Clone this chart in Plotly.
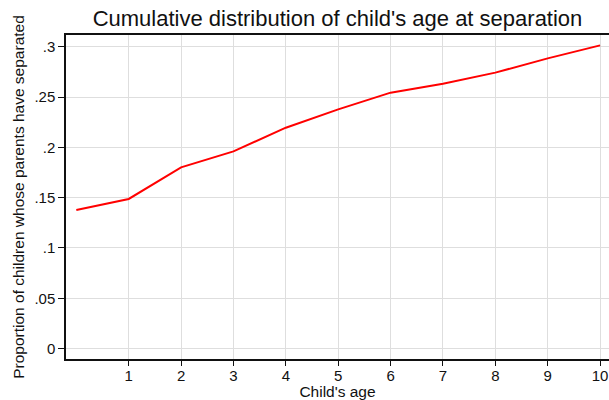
import plotly.graph_objects as go

# Child's age (years) and cumulative share of children whose parents have separated
ages = [0, 1, 2, 3, 4, 5, 6, 7, 8, 9, 10]
cum_share = [0.1377, 0.1487, 0.1801, 0.1960, 0.2195, 0.2377, 0.2543, 0.2632, 0.2742, 0.2884, 0.3013]

x_ticks = [1, 2, 3, 4, 5, 6, 7, 8, 9, 10]
y_ticks = [0, 0.05, 0.1, 0.15, 0.2, 0.25, 0.3]
y_tick_text = ["0", ".05", ".1", ".15", ".2", ".25", ".3"]

font_family = "Liberation Sans, Arial, sans-serif"
ink = "#111111"

fig = go.Figure(
    go.Scatter(
        x=ages,
        y=cum_share,
        mode="lines",
        line=dict(color="#ff0000", width=2),
        showlegend=False,
    )
)

fig.update_layout(
    width=609,
    height=400,
    margin=dict(l=66, r=0, t=35, b=41),
    paper_bgcolor="white",
    plot_bgcolor="white",
    font=dict(family=font_family, color=ink),
    title=dict(
        text="Cumulative distribution of child's age at separation",
        x=(66 + 609) / 2 / 609,
        xanchor="center",
        y=1 - 18 / 400,
        yanchor="middle",
        font=dict(size=22, color=ink),
    ),
)

fig.update_xaxes(
    range=[-0.197, 10.17],
    tickvals=x_ticks,
    ticks="outside",
    ticklen=5,
    tickcolor=ink,
    tickfont=dict(size=15),
    ticklabelstandoff=-3,
    showgrid=True,
    gridcolor="#dedede",
    gridwidth=1,
    showline=True,
    linecolor=ink,
    linewidth=1.5,
    mirror=True,
    zeroline=False,
    title=dict(text="Child's age", font=dict(size=15.5), standoff=0),
)

fig.update_yaxes(
    range=[-0.0103, 0.3116],
    tickvals=y_ticks,
    ticktext=y_tick_text,
    ticks="outside",
    ticklen=6,
    tickcolor=ink,
    tickfont=dict(size=15),
    showgrid=True,
    gridcolor="#dedede",
    gridwidth=1,
    showline=True,
    linecolor=ink,
    linewidth=1.5,
    zeroline=False,
    title=dict(text="Proportion of children whose parents have separated", font=dict(size=15.5), standoff=6),
)

fig.write_html("out.html")
